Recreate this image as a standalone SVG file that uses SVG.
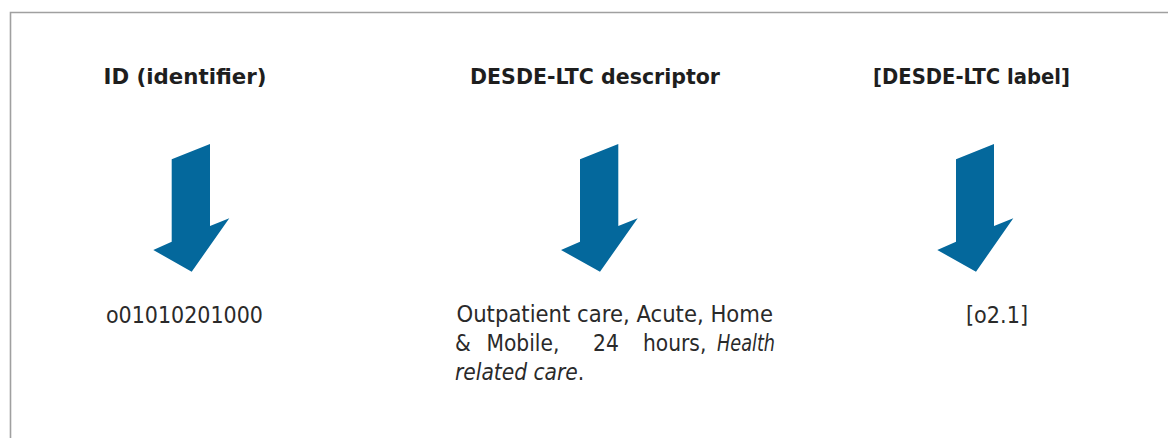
<svg xmlns="http://www.w3.org/2000/svg" width="1168" height="438" viewBox="0 0 1168 438">
<style>
.frame{fill:none;stroke:#a0a0a0;stroke-width:1.6}
.hd{font-family:"DejaVu Sans Condensed","DejaVu Sans","Liberation Sans",sans-serif;font-stretch:condensed;font-weight:bold;font-size:21.5px;fill:#1e1e1e}
.bd{font-family:"DejaVu Sans Condensed","DejaVu Sans","Liberation Sans",sans-serif;font-stretch:condensed;font-size:22.5px;fill:#2a2a2a}
.it{font-style:italic}
.arrow{fill:#04689c}
</style>
<rect width="1168" height="438" fill="#ffffff"/>
<path class="frame" d="M10.5,438 L10.5,12.5 L1168,12.5"/>
<g id="col-id">
<text class="hd" x="103.5" y="83.5" textLength="163" lengthAdjust="spacingAndGlyphs">ID (identifier)</text>
<text class="bd" x="106" y="322.5" textLength="157" lengthAdjust="spacingAndGlyphs">o01010201000</text>
</g>
<g id="col-descriptor">
<text class="hd" x="470" y="83.5" textLength="250" lengthAdjust="spacingAndGlyphs">DESDE-LTC descriptor</text>
<text class="bd" x="456.5" y="321.5" textLength="316.5" lengthAdjust="spacingAndGlyphs">Outpatient care, Acute, Home</text>
<text class="bd" x="455" y="350.5">&amp;</text>
<text class="bd" x="486.5" y="350.5">Mobile,</text>
<text class="bd" x="593" y="350.5">24</text>
<text class="bd" x="643" y="350.5">hours,</text>
<text class="bd it" x="717" y="350.5" textLength="58" lengthAdjust="spacingAndGlyphs">Health</text>
<text class="bd" x="455" y="379.5"><tspan class="it">related care</tspan>.</text>
</g>
<g id="col-label">
<text class="hd" x="873" y="83.5" textLength="197" lengthAdjust="spacingAndGlyphs">[DESDE-LTC label]</text>
<text class="bd" x="966" y="322.5" textLength="62" lengthAdjust="spacingAndGlyphs">[o2.1]</text>
</g>
<g id="connectors">
<polygon class="arrow" points="171.7,159.3 210,144 210,226 229.3,218.3 191.7,271.7 153.3,250 171.7,241.7"/>
<polygon class="arrow" points="580,159.3 618.3,144 618.3,226 637.7,218.3 600,271.7 561,250 580,241.7"/>
<polygon class="arrow" points="956,159.3 994,144 994,226 1013.3,218.3 976,271.7 937.3,250 956,241.7"/>
</g>
</svg>
